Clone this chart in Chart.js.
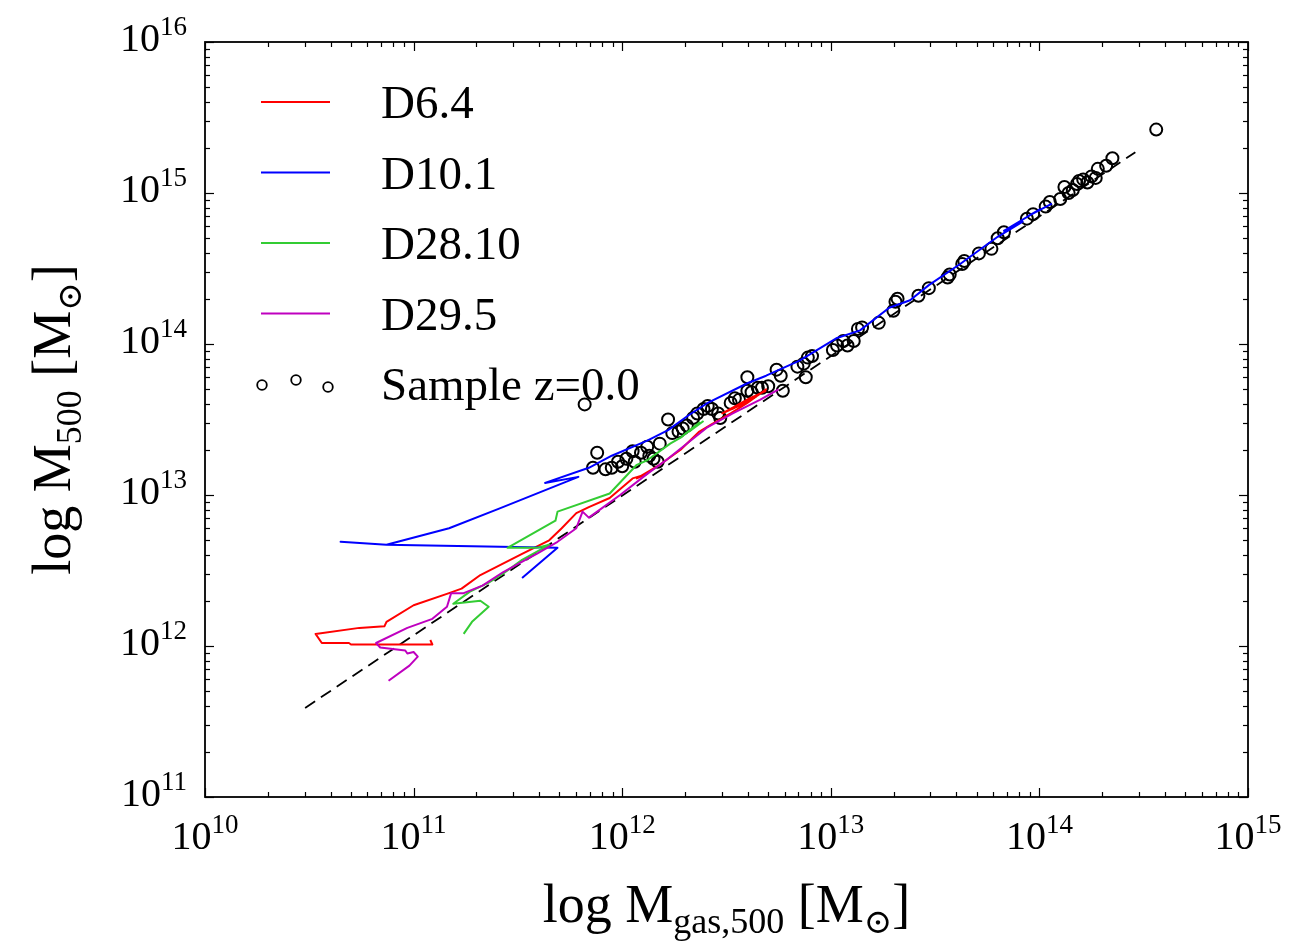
<!DOCTYPE html>
<html>
<head>
<meta charset="utf-8">
<script src="https://cdn.jsdelivr.net/npm/chart.js@4.4.1/dist/chart.umd.min.js"></script>
<style>
  html, body { margin: 0; padding: 0; background: #ffffff; }
  canvas { display: block; }
</style>
</head>
<body>
<canvas id="chart" width="1293" height="945"></canvas>
<script>
// Decade exponents used for the tick labels (10^n)
const xTickExps = [10, 11, 12, 13, 14, 15];
const yTickExps = [11, 12, 13, 14, 15, 16];

// Cluster sample at z = 0 (log10 of gas mass and total mass, both in solar masses)
const sampleLogMgas = [11.82,11.88,11.86,11.92,11.95,11.98,12.00,12.02,12.05,12.06,12.09,12.12,12.13,12.15,12.18,12.17,12.22,12.24,12.27,12.29,12.31,12.34,12.36,12.39,12.41,12.43,12.46,12.47,12.52,12.54,12.56,12.60,12.60,12.62,12.65,12.67,12.70,12.74,12.76,12.77,12.84,12.87,12.89,12.88,12.91,13.01,13.03,13.06,13.08,13.11,13.13,13.15,13.23,13.30,13.31,13.32,13.42,13.47,13.56,13.57,13.63,13.64,13.71,13.77,13.80,13.83,13.94,13.97,14.03,14.05,14.10,14.12,14.14,14.16,14.18,14.19,14.21,14.23,14.25,14.27,14.28,14.32,14.35,14.56];
const sampleLogM    = [13.60,13.28,13.18,13.17,13.18,13.22,13.19,13.24,13.29,13.22,13.28,13.32,13.26,13.24,13.34,13.22,13.50,13.41,13.42,13.44,13.46,13.51,13.54,13.57,13.59,13.57,13.54,13.51,13.61,13.64,13.63,13.78,13.69,13.68,13.71,13.71,13.72,13.83,13.79,13.69,13.85,13.87,13.91,13.78,13.92,13.96,13.99,14.02,13.99,14.02,14.10,14.11,14.14,14.22,14.28,14.30,14.32,14.37,14.44,14.46,14.53,14.55,14.60,14.63,14.70,14.74,14.83,14.86,14.91,14.94,14.96,15.04,15.00,15.02,15.06,15.08,15.09,15.07,15.11,15.10,15.16,15.18,15.23,15.42];

// Evolutionary tracks of individual haloes
const d64LogMgas = [11.08,11.09,10.70,10.69,10.56,10.53,10.74,10.86,10.87,11.00,11.17,11.23,11.32,11.52,11.65,11.71,11.78,11.84,11.94,12.05,12.12,12.07,12.18,12.28,12.37,12.43,12.52,12.60,12.69,12.65,12.56,12.48,12.61,12.69];
const d64LogM    = [12.04,12.01,12.01,12.02,12.02,12.08,12.12,12.13,12.16,12.27,12.35,12.38,12.47,12.61,12.70,12.78,12.88,12.92,12.98,13.11,13.14,13.11,13.20,13.30,13.42,13.47,13.54,13.61,13.70,13.66,13.59,13.54,13.64,13.69];

const d101LogMgas = [11.52,11.69,10.87,10.65,10.87,11.17,11.41,11.79,11.63,11.84,11.95,12.12,12.22,12.32,12.41,12.60,12.69,12.85,13.03,13.14,13.28,13.38,13.47,13.62,13.80,13.92,13.83,14.00,13.95,14.06];
const d101LogM    = [12.45,12.65,12.67,12.69,12.67,12.78,12.91,13.12,13.08,13.18,13.26,13.36,13.43,13.53,13.61,13.74,13.79,13.89,14.04,14.09,14.24,14.29,14.39,14.53,14.71,14.81,14.75,14.89,14.85,14.93];

const d2810LogMgas = [11.24,11.28,11.36,11.32,11.19,11.27,11.36,11.43,11.52,11.65,11.59,11.45,11.68,11.69,11.94,12.07,12.12,12.23,12.28,12.37,12.32,12.39];
const d2810LogM    = [12.08,12.16,12.26,12.30,12.28,12.36,12.42,12.48,12.57,12.67,12.65,12.65,12.83,12.89,13.01,13.20,13.23,13.34,13.38,13.48,13.42,13.49];

const d295LogMgas = [10.88,10.98,11.02,11.00,10.97,10.96,10.84,10.82,10.97,11.09,11.16,11.18,11.24,11.33,11.43,11.51,11.59,11.69,11.78,11.81,11.84,11.88,11.99,12.12,12.21,12.41,12.53,12.66,12.75];
const d295LogM    = [11.77,11.87,11.93,11.96,11.95,11.97,11.99,12.02,12.12,12.18,12.26,12.35,12.35,12.40,12.49,12.55,12.61,12.69,12.78,12.89,12.85,12.89,13.00,13.14,13.23,13.45,13.54,13.63,13.70];

// Best-fit scaling relation (dashed)
const fitLogMgas = [10.48, 14.46];
const fitLogM    = [11.59, 15.27];

const SERIF = '"Liberation Serif", "DejaVu Serif", serif';

function pairs(xs, ys) {
  return xs.map((v, i) => ({ x: v, y: ys[i] }));
}

function track(label, xs, ys, color, order) {
  return {
    label, data: pairs(xs, ys), showLine: true, borderColor: color,
    backgroundColor: color, borderWidth: 2, pointRadius: 0, tension: 0,
    borderJoinStyle: 'round', order, inLegend: true
  };
}

const datasets = [
  track('D6.4', d64LogMgas, d64LogM, '#ff0000', 4),
  track('D10.1', d101LogMgas, d101LogM, '#0000ff', 3),
  track('D28.10', d2810LogMgas, d2810LogM, '#33cc33', 2),
  track('D29.5', d295LogMgas, d295LogM, '#bf00bf', 1),
  {
    label: 'Sample z=0.0', data: pairs(sampleLogMgas, sampleLogM), showLine: false,
    pointRadius: 6, pointBorderWidth: 2, pointBorderColor: '#000000',
    pointBackgroundColor: 'rgba(0,0,0,0)', order: 6, inLegend: true
  },
  {
    label: 'fit', data: pairs(fitLogMgas, fitLogM), showLine: true,
    borderColor: '#000000', borderWidth: 1.8, borderDash: [12, 7],
    pointRadius: 0, order: 5, inLegend: false
  }
];

// "10" with a raised exponent
function drawPower(ctx, exp, x, y, align) {
  ctx.font = '40px ' + SERIF;
  const wb = ctx.measureText('10').width;
  ctx.font = '27px ' + SERIF;
  const we = ctx.measureText(String(exp)).width;
  const x0 = align === 'center' ? x - (wb + we) / 2 : x - (wb + we);
  ctx.textAlign = 'left';
  ctx.textBaseline = 'alphabetic';
  ctx.font = '40px ' + SERIF;
  ctx.fillText('10', x0, y);
  ctx.font = '27px ' + SERIF;
  ctx.fillText(String(exp), x0 + wb, y - 16);
}

// Text made of pieces with subscripts, centred on x
function drawRich(ctx, pieces, cx, baseY) {
  let total = 0;
  pieces.forEach(p => { ctx.font = p.size + 'px ' + SERIF; p.w = ctx.measureText(p.t).width; total += p.w; });
  let x = cx - total / 2;
  ctx.textAlign = 'left';
  ctx.textBaseline = 'alphabetic';
  pieces.forEach(p => {
    ctx.font = p.size + 'px ' + SERIF;
    ctx.fillText(p.t, x, baseY + p.dy);
    x += p.w;
  });
}

const framePlugin = {
  id: 'frameAndTicks',
  afterDatasetsDraw(chart) {
    const { ctx, chartArea: a, scales } = chart;
    const xs = scales.x, ys = scales.y;
    ctx.save();
    ctx.strokeStyle = '#000000';
    ctx.fillStyle = '#000000';
    ctx.lineWidth = 1.2;
    const seg = (x1, y1, x2, y2) => { ctx.beginPath(); ctx.moveTo(x1, y1); ctx.lineTo(x2, y2); ctx.stroke(); };

    const xMax = xTickExps[xTickExps.length - 1];
    xTickExps.forEach(e => {
      for (let k = 1; k < 10; k++) {
        const v = e + Math.log10(k);
        if (v > xMax + 1e-9) break;
        const px = Math.round(xs.getPixelForValue(v)) + 0.5;
        const len = k === 1 ? 9 : 5;
        seg(px, a.bottom, px, a.bottom - len);
        seg(px, a.top, px, a.top + len);
      }
    });
    const yMax = yTickExps[yTickExps.length - 1];
    yTickExps.forEach(e => {
      for (let k = 1; k < 10; k++) {
        const v = e + Math.log10(k);
        if (v > yMax + 1e-9) break;
        const py = Math.round(ys.getPixelForValue(v)) + 0.5;
        const len = k === 1 ? 9 : 5;
        seg(a.left, py, a.left + len, py);
        seg(a.right, py, a.right - len, py);
      }
    });

    ctx.lineWidth = 1.8;
    ctx.strokeRect(a.left, a.top, a.right - a.left, a.bottom - a.top);

    xTickExps.forEach(e => drawPower(ctx, e, xs.getPixelForValue(e), a.bottom + 52, 'center'));
    yTickExps.forEach(e => drawPower(ctx, e, a.left - 18, ys.getPixelForValue(e) + 9, 'right'));

    // Axis titles
    drawRich(ctx, [
      { t: 'log M', size: 54, dy: 0 },
      { t: 'gas,500', size: 36, dy: 11 },
      { t: ' [M', size: 54, dy: 0 },
      { t: '\u2299', size: 34, dy: 11 },
      { t: ']', size: 54, dy: 0 }
    ], (a.left + a.right) / 2, 922);

    ctx.save();
    ctx.translate(70, (a.top + a.bottom) / 2);
    ctx.rotate(-Math.PI / 2);
    drawRich(ctx, [
      { t: 'log M', size: 54, dy: 0 },
      { t: '500', size: 36, dy: 11 },
      { t: ' [M', size: 54, dy: 0 },
      { t: '\u2299', size: 34, dy: 11 },
      { t: ']', size: 54, dy: 0 }
    ], 0, 0);
    ctx.restore();
    ctx.restore();
  },
  afterDraw(chart) {
    const { ctx } = chart;
    ctx.save();
    const rowTop = 118, rowStep = 70.5;
    const lineX0 = 261, lineX1 = 330, textX = 381;
    const items = chart.data.datasets.filter(d => d.inLegend);
    items.forEach((d, i) => {
      const base = rowTop + i * rowStep;
      const cy = base - 16;
      if (d.showLine) {
        ctx.strokeStyle = d.borderColor;
        ctx.lineWidth = 2;
        ctx.beginPath(); ctx.moveTo(lineX0, cy); ctx.lineTo(lineX1, cy); ctx.stroke();
      } else {
        ctx.strokeStyle = '#000000';
        ctx.lineWidth = 1.8;
        [[262, cy + 1], [296, cy - 4], [328, cy + 3]].forEach(([px, py]) => {
          ctx.beginPath(); ctx.arc(px, py, 4.8, 0, Math.PI * 2); ctx.stroke();
        });
      }
      ctx.fillStyle = '#000000';
      ctx.font = '47px ' + SERIF;
      ctx.textAlign = 'left';
      ctx.textBaseline = 'alphabetic';
      ctx.fillText(d.label, textX, base);
    });
    ctx.restore();
  }
};

new Chart(document.getElementById('chart'), {
  type: 'scatter',
  data: { datasets },
  options: {
    responsive: false,
    devicePixelRatio: 1,
    animation: false,
    layout: { padding: { left: 205, top: 42, right: 45, bottom: 148 } },
    scales: {
      x: { type: 'linear', min: xTickExps[0], max: xTickExps[xTickExps.length - 1], display: false },
      y: { type: 'linear', min: yTickExps[0], max: yTickExps[yTickExps.length - 1], display: false }
    },
    plugins: { legend: { display: false }, tooltip: { enabled: false } }
  },
  plugins: [framePlugin, {
    id: 'whiteBg',
    beforeDraw(chart) {
      const c = chart.ctx;
      c.save(); c.fillStyle = '#ffffff'; c.fillRect(0, 0, chart.width, chart.height); c.restore();
    }
  }]
});
</script>
</body>
</html>
